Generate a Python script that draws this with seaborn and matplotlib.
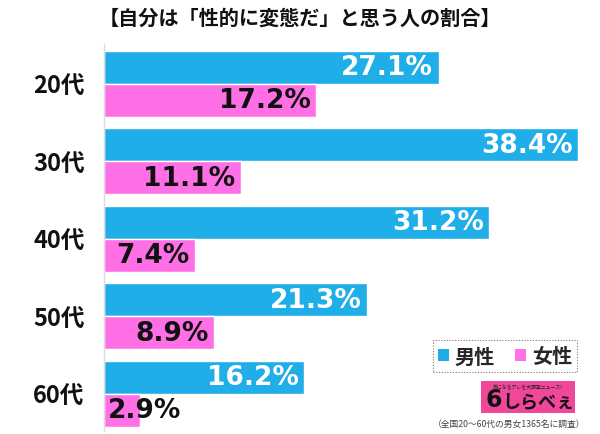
import matplotlib
matplotlib.use("Agg")
import matplotlib.pyplot as plt
from matplotlib.patches import Patch, Rectangle
import seaborn as sns
import pandas as pd

categories = ["20代", "30代", "40代", "50代", "60代"]
male = [27.1, 38.4, 31.2, 21.3, 16.2]
female = [17.2, 11.1, 7.4, 8.9, 2.9]
series_names = ["男性", "女性"]
title = "【自分は「性的に変態だ」と思う人の割合】"
note = "（全国20～60代の男女1365名に調査）"

BLUE = "#20AEE8"
PINK = "#FF6FE6"
CJK = ["Noto Sans CJK JP", "DejaVu Sans"]

sns.set_theme(style="white")
plt.rcParams["font.family"] = CJK

df = pd.DataFrame({
    "age": categories * 2,
    "value": male + female,
    "sex": [series_names[0]] * len(categories) + [series_names[1]] * len(categories),
})

fig = plt.figure(figsize=(6.0, 4.35), dpi=100)
ax = fig.add_axes([104 / 600, 1 - 432 / 435, 494 / 600, (432 - 45) / 435])

sns.barplot(data=df, y="age", x="value", hue="sex", orient="h",
            palette=[BLUE, PINK], width=0.85, saturation=1, legend=False, ax=ax)

ax.set_xlim(0, 40)
ax.set_ylim(4.48, -0.51)
ax.set_xlabel("")
ax.set_ylabel("")
ax.set_xticks([])
for s in ["top", "right", "bottom"]:
    ax.spines[s].set_visible(False)
ax.spines["left"].set_color("#dddddd")
ax.spines["left"].set_linewidth(1.0)
ax.tick_params(axis="y", length=0, pad=14)
for lab in ax.get_yticklabels():
    lab.set_fontsize(17)
    lab.set_fontweight("bold")
    lab.set_color("#111111")

# value labels
for ci, cont in enumerate(ax.containers):
    for bar in cont:
        w = bar.get_width()
        yc = bar.get_y() + bar.get_height() / 2
        txt = f"{w:.1f}%"
        color = "white" if ci == 0 else "#111111"
        if w < 5:
            ax.text(0.3, yc, txt, ha="left", va="center", fontsize=19,
                    fontweight="bold", color=color, family="DejaVu Sans")
        else:
            ax.text(w - 0.45, yc, txt, ha="right", va="center", fontsize=19,
                    fontweight="bold", color=color, family="DejaVu Sans")

fig.text(0.5, 1 - 18 / 435, title, ha="center", va="center", fontsize=14.5,
         fontweight="bold", color="#111111")

handles = [Patch(facecolor=BLUE, edgecolor="none"), Patch(facecolor=PINK, edgecolor="none")]
leg = fig.legend(handles, series_names, loc="center", bbox_to_anchor=(505 / 600, 1 - 357 / 435),
                 ncol=2, frameon=True, fontsize=14.5, handlelength=0.55, handleheight=0.55,
                 handletextpad=0.3, columnspacing=1.0, borderpad=0.25, fancybox=False,
                 prop={"family": CJK, "weight": "bold", "size": 14.5})
fr = leg.get_frame()
fr.set_linestyle((0, (1, 1.5)))
fr.set_edgecolor("#555555")
fr.set_linewidth(0.8)

# logo
fig.patches.append(Rectangle((481 / 600, 1 - 414 / 435), 94 / 600, 32 / 435,
                             transform=fig.transFigure, facecolor="#F0479A",
                             edgecolor="none", zorder=3))
fig.text(528 / 600, 1 - 388 / 435, "気になるアレを大調査ニュース!", ha="center", va="center",
         fontsize=3.5, color="#222222", zorder=4)
fig.text(538 / 600, 1 - 402 / 435, "しらべぇ", ha="center", va="center",
         fontsize=13, fontweight="bold", color="#111111", zorder=4)
fig.text(494 / 600, 1 - 400 / 435, "6", ha="center", va="center",
         fontsize=17, fontweight="bold", color="#111111", zorder=4, family="DejaVu Sans")

fig.text(509 / 600, 1 - 424 / 435, note, ha="center", va="center",
         fontsize=6.3, color="#444444")

fig.savefig("out.png", dpi=100)
